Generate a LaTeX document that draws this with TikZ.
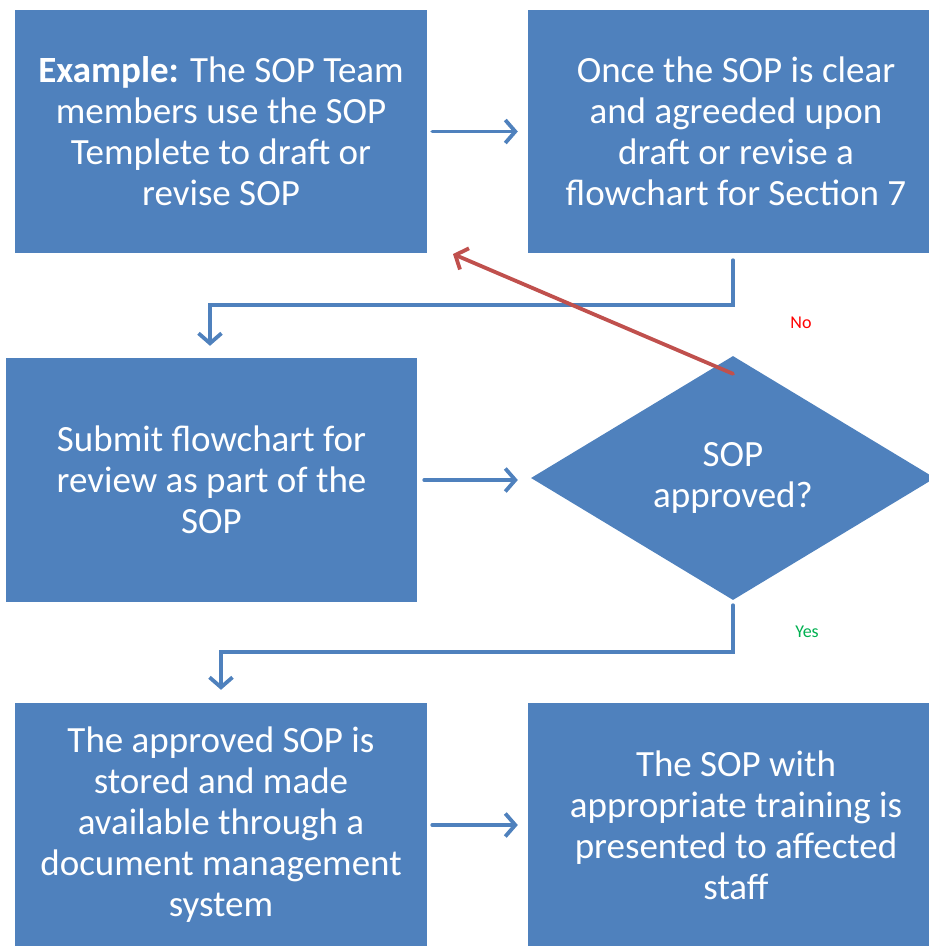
\documentclass[tikz,border=0pt]{standalone}
\usepackage{fontspec}
\setmainfont{Carlito}
\usetikzlibrary{shapes.geometric,arrows.meta}
\definecolor{boxblue}{HTML}{4F81BD}
\definecolor{backred}{HTML}{C0504D}
\definecolor{yesgreen}{HTML}{00B050}
\definecolor{nored}{HTML}{FF0000}
\tikzset{
  stepbox/.style={rectangle, fill=boxblue, draw=none, text=white, align=center,
    inner sep=0pt, font=\fontsize{37}{41}\selectfont},
  decision/.style={diamond, fill=boxblue, draw=none, text=white, align=center,
    inner sep=0pt, minimum width=404pt, minimum height=244pt,
    font=\fontsize{37}{41}\selectfont},
  conn/.style={draw=boxblue, line width=3.8pt, line cap=round,
    -{Straight Barb[length=10pt,width=23pt,line width=3.8pt]}},
  backconn/.style={draw=backred, line width=3.8pt, line cap=round,
    -{Straight Barb[length=10pt,width=23pt,line width=3.8pt]}},
  tag/.style={font=\fontsize{18}{21}\selectfont, inner sep=0pt}
}
\begin{document}
\begin{tikzpicture}[x=1pt,y=-1pt]
  \useasboundingbox (0,0) rectangle (929,946);
  \clip (0,0) rectangle (929,946);

  % process steps and decision
  \node[stepbox, minimum width=412pt, minimum height=243pt] (b1) at (221,131.5)
    {\textbf{Example:} The SOP Team\\members use the SOP\\Templete to draft or\\revise SOP};
  \node[stepbox, minimum width=416pt, minimum height=243pt] (b2) at (736,131.5)
    {Once the SOP is clear\\and agreeded upon\\draft or revise a\\flowchart for Section 7};
  \node[stepbox, minimum width=411pt, minimum height=244pt] (b3) at (211.5,480)
    {Submit flowchart for\\review as part of the\\SOP};
  \node[decision] (dm) at (733,478) {SOP\\approved?};
  \node[stepbox, minimum width=412pt, minimum height=244pt] (b4) at (221,825)
    {The approved SOP is\\stored and made\\available through a\\document management\\system};
  \node[stepbox, minimum width=416pt, minimum height=244pt] (b5) at (736,825)
    {The SOP with\\appropriate training is\\presented to affected\\staff};

  % flow connectors
  \draw[conn, shorten <=5pt, shorten >=10pt] (b1.east) -- (b2.west);
  \draw[conn, shorten <=7pt, shorten >=12pt]
    ([xshift=-3pt]b2.south) -- ++(0,52) -| ([xshift=-1.5pt]b3.north);
  \draw[conn, shorten <=7pt, shorten >=13pt] (b3.east) -- (b3.east -| dm.west);
  \draw[conn, shorten <=5pt, shorten >=13pt]
    (dm.south) -- ++(0,52) -| (b4.north);
  \draw[conn, shorten <=5pt, shorten >=10pt] (b4.east) -- (b5.west);

  % rejection path back to drafting
  \coordinate (redo) at (453,254);
  \draw[backconn] ([yshift=-18pt]dm.north) -- (redo);

  \node[tag, text=nored] (no) at (801,323) {No};
  \node[tag, text=yesgreen] (yes) at (807,632) {Yes};
\end{tikzpicture}
\end{document}
